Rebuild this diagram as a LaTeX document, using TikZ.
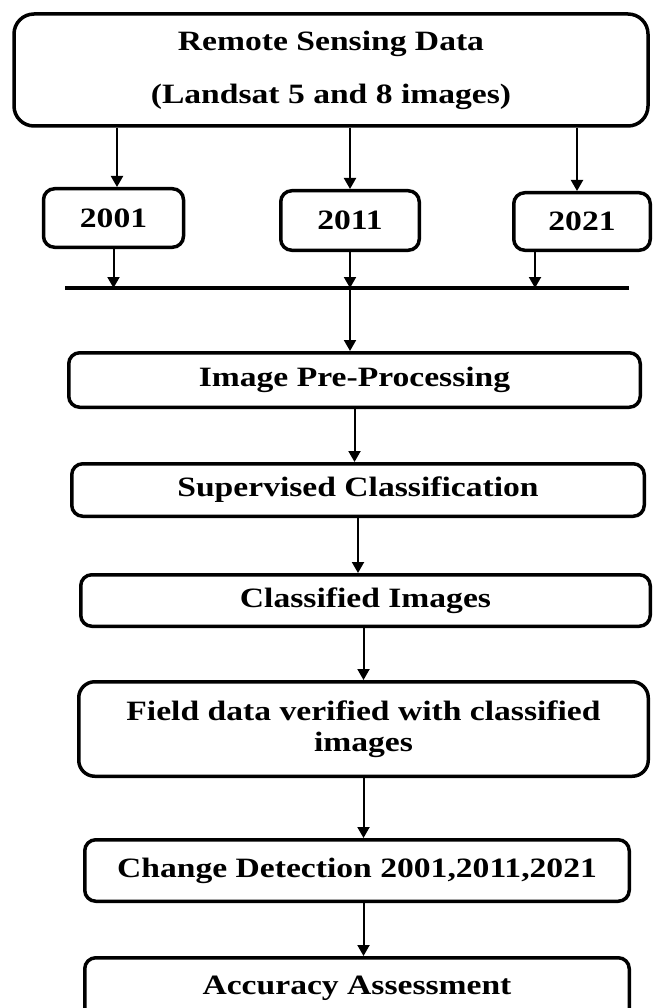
\documentclass[tikz,border=0pt]{standalone}
\usepackage{fontspec}
\newfontfamily\labfont{Liberation Serif}[FakeStretch=1.2]
\usetikzlibrary{arrows.meta}
\begin{document}
\begin{tikzpicture}[x=1pt,y=-1pt,
  box/.style={draw,line width=3.5pt,rounded corners=11pt,inner sep=0pt,align=center,
    font=\labfont\bfseries\fontsize{28}{31}\selectfont},
  arr/.style={line width=2pt,-{Triangle[length=11pt,width=12pt]}}]
\useasboundingbox (0,0) rectangle (654,1008);
\clip (0,0) rectangle (654,1008);
\node[box,rounded corners=20pt,minimum width=634pt,minimum height=112pt] (top) at (331,70)
  {Remote Sensing Data\\[22pt](Landsat 5 and 8 images)};
\node[box,minimum width=140pt,minimum height=58.5pt] (y1) at (113.5,218) {2001};
\node[box,minimum width=138.5pt,minimum height=59.5pt] (y2) at (350,220.5) {2011};
\node[box,minimum width=136.5pt,minimum height=57.5pt] (y3) at (582,221.5) {2021};
\coordinate (L1) at (65,288);
\coordinate (L2) at (629,288);
\coordinate (J) at (350,288);
\coordinate (a1) at (117,0);
\coordinate (a3) at (577,0);
\coordinate (b3) at (535,0);
\draw[arr] (top.south -| a1) -- (y1.north -| a1);
\draw[arr] (top.south -| y2) -- (y2.north);
\draw[arr] (top.south -| a3) -- (y3.north -| a3);
\draw[line width=3.5pt] (L1) -- (L2);
\draw[arr] (y1.south) -- (y1.south |- L1);
\draw[arr] (y2.south) -- (y2.south |- L1);
\draw[arr] (y3.south -| b3) -- (b3 |- L1);
\node[box,minimum width=571.5pt,minimum height=54.5pt] (pre) at (354.5,380) {Image Pre-Processing};
\node[box,minimum width=572.5pt,minimum height=52.5pt] (sup) at (358,490) {Supervised Classification};
\node[box,minimum width=569.5pt,minimum height=51.5pt] (cls) at (365.5,600.5) {Classified Images};
\node[box,rounded corners=16pt,minimum width=569.5pt,minimum height=94.5pt] (fld) at (363.5,729)
  {Field data verified with classified\\images};
\node[box,minimum width=544.5pt,minimum height=61.5pt] (chg) at (357,870.5) {Change Detection 2001,2011,2021};
\node[box,minimum width=544.5pt,minimum height=61.5pt] (acc) at (357,988.5) {Accuracy Assessment};
\draw[arr] (J) -- (J |- pre.north);
\draw[arr] (pre.south) -- (pre.south |- sup.north);
\draw[arr] (sup.south) -- (sup.south |- cls.north);
\draw[arr] (cls.south -| fld) -- (fld.north);
\draw[arr] (fld.south) -- (fld.south |- chg.north);
\draw[arr] (fld.south |- chg.south) -- (fld.south |- acc.north);
\end{tikzpicture}
\end{document}
